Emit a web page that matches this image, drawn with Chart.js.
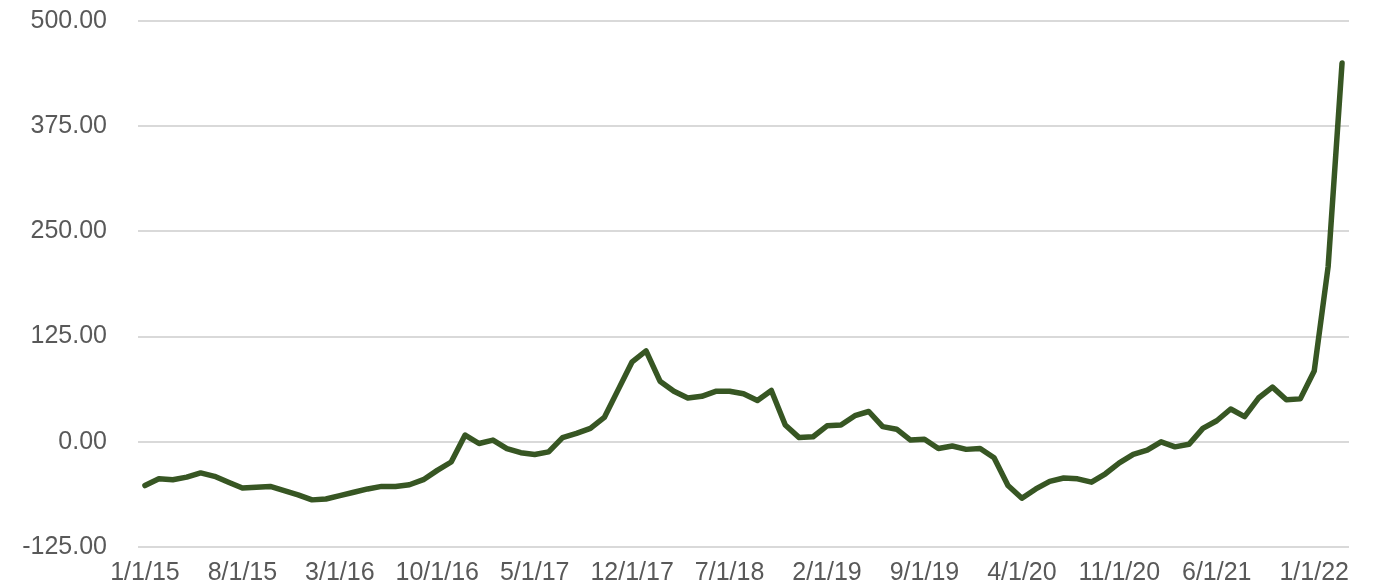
<!DOCTYPE html>
<html>
<head>
<meta charset="utf-8">
<script src="https://cdn.jsdelivr.net/npm/chart.js@4/dist/chart.umd.min.js"></script>
<style>
  html, body { margin: 0; padding: 0; background: #fff; }
  #wrap { width: 1385px; height: 587px; }
</style>
</head>
<body>
<div id="wrap"><canvas id="lineChart"></canvas></div>
<script>
// monthly categories, 1/1/15 .. 3/1/22
const months = [];
for (let y = 2015; y <= 2022; y++) {
    for (let m = 1; m <= 12; m++) {
        if (y === 2022 && m > 3) break;
        months.push(m + '/1/' + String(y).slice(2));
    }
}

// values
const values = [
    -52, -44, -45, -42, -37, -41, -48, -55, -54, -53, -58, -63,
    -69, -68, -64, -60, -56, -53, -53, -51, -45, -34, -24, 8,
    -2, 2, -8, -13, -15, -12, 5, 10, 16, 29, 62, 95,
    108, 72, 60, 52, 54, 60, 60, 57, 49, 61, 20, 5,
    6, 19, 20, 31, 36, 18, 15, 2, 3, -8, -5, -9,
    -8, -19, -52, -67, -56, -47, -43, -44, -48, -38, -25, -15,
    -10, 0, -6, -3, 16, 25, 39, 30, 52, 65, 50, 51,
    84, 208, 450
];

const yTicks = [-125, 0, 125, 250, 375, 500];

const ctx = document.getElementById('lineChart');
new Chart(ctx, {
    type: 'line',
    data: {
        labels: months,
        datasets: [{
            data: values,
            borderColor: '#375623',
            borderWidth: 5.5,
            pointRadius: 0,
            tension: 0,
            borderCapStyle: 'round',
            borderJoinStyle: 'round'
        }]
    },
    options: {
        responsive: true,
        maintainAspectRatio: false,
        animation: false,
        layout: { padding: { top: 21, right: 36, left: 0, bottom: 0 } },
        plugins: { legend: { display: false }, tooltip: { enabled: false } },
        scales: {
            x: {
                offset: true,
                grid: { display: false, drawTicks: false },
                border: { display: false },
                ticks: {
                    autoSkip: false,
                    maxRotation: 0,
                    padding: 11,
                    color: '#595959',
                    font: { family: 'Liberation Sans', size: 25 },
                    callback: function (val, i) {
                        return i % 7 === 0 ? this.getLabelForValue(val) : null;
                    }
                },
                afterFit: s => { s.height = 40; }
            },
            y: {
                min: yTicks[0],
                max: yTicks[yTicks.length - 1],
                afterBuildTicks: s => { s.ticks = yTicks.map(v => ({ value: v })); },
                grid: { color: '#d9d9d9', lineWidth: 2, drawTicks: false },
                border: { display: false },
                ticks: {
                    padding: 31,
                    color: '#595959',
                    font: { family: 'Liberation Sans', size: 25 },
                    callback: v => v.toFixed(2)
                },
                // tick padding would otherwise also push the plot down
                afterFit: s => { s.width = 138; s.paddingTop = 0; s.paddingBottom = 0; }
            }
        }
    }
});
</script>
</body>
</html>
